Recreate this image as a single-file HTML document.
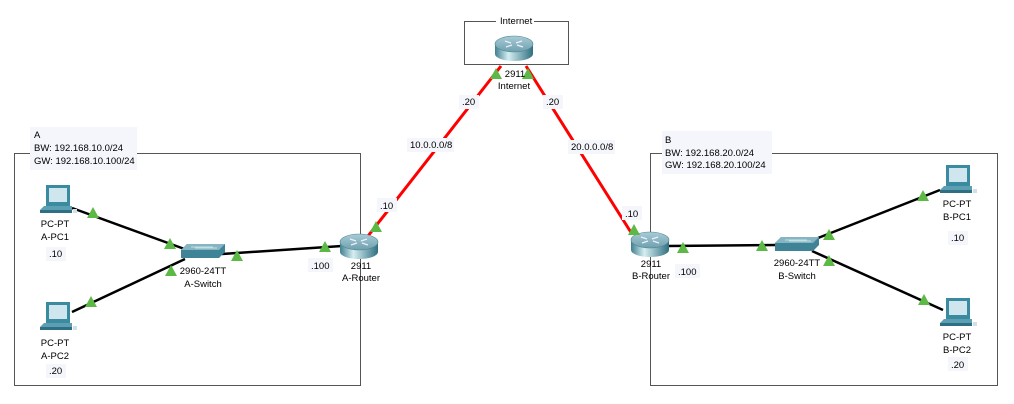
<!DOCTYPE html>
<html><head><meta charset="utf-8"><style>
html,body{margin:0;padding:0;background:#fff;}
svg{display:block;font-family:"Liberation Sans",Arial,sans-serif;font-size:9.5px;}
</style></head><body>
<svg width="1014" height="404" viewBox="0 0 1014 404" xmlns="http://www.w3.org/2000/svg">
<defs>
<linearGradient id="rb" x1="0" x2="1" y1="0" y2="0">
<stop offset="0" stop-color="#3f7f8f"/><stop offset="0.35" stop-color="#d5eef2"/><stop offset="1" stop-color="#2f6f80"/>
</linearGradient>
<linearGradient id="rt" x1="0" x2="0" y1="0" y2="1">
<stop offset="0" stop-color="#a8ccd6"/><stop offset="1" stop-color="#6e9fad"/>
</linearGradient>
<g id="router">
<path d="M-19,-5 L-19,5 A19,7 0 0 0 19,5 L19,-5 Z" fill="url(#rb)"/>
<ellipse cx="0" cy="-5" rx="19" ry="8" fill="url(#rt)" stroke="#4f8494" stroke-width="0.6"/>
<path d="M-9,-8 L-3,-6 M9,-2 L3,-4 M-8,-2 L-2,-4 M8,-8 L2,-6" stroke="#eef" stroke-width="1.2"/>
</g>
<g id="switch">
<path d="M-22,-1 L-16,-7 L22,-7 L22,1 L16,7 L-22,7 Z" fill="#3f8396"/>
<path d="M-22,-1 L-16,-7 L22,-7 L16,-1 Z" fill="#86b4c2"/>
<path d="M-12,-4 L10,-4 M-8,-3 L14,-3" stroke="#d8eef3" stroke-width="0.8"/>
</g>
<g id="pc">
<rect x="6" y="0" width="24" height="21" fill="#3a8aa0"/>
<rect x="9" y="3" width="18" height="14" fill="#cfe6ee"/>
<path d="M0,25 L4,21 L32,21 L32,25 Z" fill="#5c9fb2"/>
<rect x="0" y="25" width="32" height="3" fill="#2e6f83"/>
<rect x="33" y="24" width="4" height="4" fill="#cfe0e6"/>
</g>
<polygon id="tri" points="0,-6 6,5 -6,5" fill="#5cb946"/>
</defs>

<rect x="14.5" y="153.5" width="346" height="232" fill="none" stroke="#555" stroke-width="1"/>
<rect x="650.5" y="153.5" width="347" height="232" fill="none" stroke="#555" stroke-width="1"/>
<rect x="464.5" y="21.5" width="104" height="43" fill="none" stroke="#555" stroke-width="1"/>
<rect x="496" y="15" width="38" height="12" fill="#fff"/>
<text x="500" y="24">Internet</text>

<rect x="30" y="127" width="107" height="43" fill="#f4f6fb"/>
<text x="34" y="138">A</text>
<text x="34" y="151">BW: 192.168.10.0/24</text>
<text x="34" y="164">GW: 192.168.10.100/24</text>
<rect x="662" y="131" width="110" height="43" fill="#f4f6fb"/>
<text x="665" y="143">B</text>
<text x="665" y="156">BW: 192.168.20.0/24</text>
<text x="665" y="168">GW: 192.168.20.100/24</text>

<g stroke="#000" stroke-width="2.5">
<line x1="72" y1="208" x2="190" y2="251"/>
<line x1="72" y1="312" x2="185" y2="259"/>
<line x1="222" y1="254" x2="342" y2="246"/>
<line x1="668" y1="246" x2="778" y2="245"/>
<line x1="818" y1="238" x2="940" y2="190"/>
<line x1="812" y1="251" x2="943" y2="310"/>
</g>
<g stroke="#f00" stroke-width="3">
<line x1="368" y1="236" x2="501" y2="66"/>
<line x1="526" y1="66" x2="632" y2="234"/>
</g>

<use href="#router" x="359" y="247"/>
<use href="#router" x="514" y="49"/>
<use href="#router" x="650" y="245"/>
<use href="#switch" x="203" y="251"/>
<use href="#switch" x="797" y="244"/>
<use href="#pc" x="40" y="185"/>
<use href="#pc" x="40" y="302"/>
<use href="#pc" x="940" y="165"/>
<use href="#pc" x="940" y="298"/>

<use href="#tri" x="93" y="213"/>
<use href="#tri" x="170" y="244"/>
<use href="#tri" x="171" y="271"/>
<use href="#tri" x="91" y="302"/>
<use href="#tri" x="237" y="256"/>
<use href="#tri" x="325" y="247"/>
<use href="#tri" x="376" y="227"/>
<use href="#tri" x="496" y="74"/>
<use href="#tri" x="528" y="74"/>
<use href="#tri" x="634" y="230"/>
<use href="#tri" x="683" y="248"/>
<use href="#tri" x="762" y="246"/>
<use href="#tri" x="829" y="235"/>
<use href="#tri" x="923" y="196"/>
<use href="#tri" x="829" y="261"/>
<use href="#tri" x="924" y="300"/>

<g text-anchor="middle">
<text x="55" y="227">PC-PT</text><text x="55" y="240">A-PC1</text>
<text x="55" y="346">PC-PT</text><text x="55" y="359">A-PC2</text>
<text x="203" y="274">2960-24TT</text><text x="203" y="287">A-Switch</text>
<text x="361" y="269">2911</text><text x="361" y="281">A-Router</text>
<text x="515" y="77">2911</text><text x="514" y="89">Internet</text>
<text x="651" y="267">2911</text><text x="651" y="279">B-Router</text>
<text x="797" y="266">2960-24TT</text><text x="797" y="279">B-Switch</text>
<text x="957" y="207">PC-PT</text><text x="957" y="220">B-PC1</text>
<text x="957" y="340">PC-PT</text><text x="957" y="353">B-PC2</text>
</g>
<g>
<rect x="46" y="247" width="20" height="14" fill="#f4f6fb"/><text x="49" y="257">.10</text>
<rect x="46" y="364" width="20" height="14" fill="#f4f6fb"/><text x="49" y="374">.20</text>
<rect x="308" y="258" width="25" height="14" fill="#f4f6fb"/><text x="311" y="269">.100</text>
<rect x="377" y="198" width="20" height="14" fill="#f4f6fb"/><text x="380" y="209">.10</text>
<rect x="459" y="95" width="20" height="14" fill="#f4f6fb"/><text x="462" y="105">.20</text>
<rect x="407" y="138" width="47" height="14" fill="#f4f6fb"/><text x="410" y="148">10.0.0.0/8</text>
<rect x="543" y="95" width="20" height="14" fill="#f4f6fb"/><text x="546" y="105">.20</text>
<rect x="568" y="140" width="47" height="14" fill="#f4f6fb"/><text x="571" y="150">20.0.0.0/8</text>
<rect x="622" y="206" width="20" height="14" fill="#f4f6fb"/><text x="625" y="217">.10</text>
<rect x="675" y="264" width="25" height="14" fill="#f4f6fb"/><text x="678" y="275">.100</text>
<rect x="948" y="231" width="20" height="14" fill="#f4f6fb"/><text x="951" y="241">.10</text>
<rect x="948" y="357" width="20" height="14" fill="#f4f6fb"/><text x="951" y="368">.20</text>
</g>
</svg>
</body></html>
